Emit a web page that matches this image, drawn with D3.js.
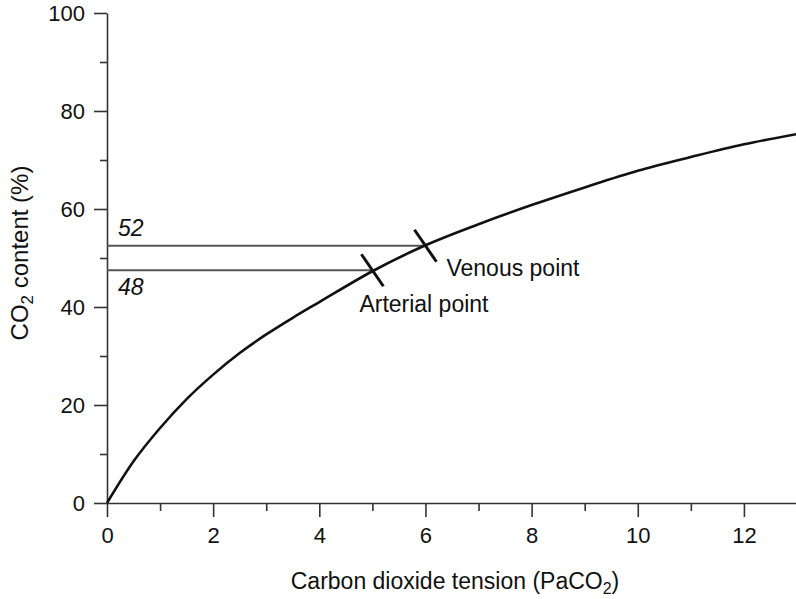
<!DOCTYPE html>
<html>
<head>
<meta charset="utf-8">
<script src="https://cdn.jsdelivr.net/npm/d3@7"></script>
<style>
  body { margin: 0; background: #fff; }
  text { font-family: "Liberation Sans", Arial, Helvetica, sans-serif; fill: #111; }
</style>
</head>
<body>
<div id="chart"></div>
<script>
// CO2 dissociation curve
const tension = [0, 0.5, 1, 1.5, 2, 2.5, 3, 3.5, 4, 5, 6, 7, 8, 9, 10, 11, 12, 13];
const content = [0, 8.5, 15.3, 21.2, 26.2, 30.6, 34.4, 37.8, 41.0, 47.3, 52.6, 56.9, 60.8, 64.4, 67.8, 70.6, 73.2, 75.3];

const xMajorTicks = [0, 2, 4, 6, 8, 10, 12];
const xMinorTicks = [1, 3, 5, 7, 9, 11];
const yMajorTicks = [0, 20, 40, 60, 80, 100];
const yMinorTicks = [10, 30, 50, 70, 90];

// marked points on the curve
const pointNames = ["Arterial point", "Venous point"];
const pointTension = [5, 6];
const pointContent = [47.5, 52.5];
const pointLabels = ["48", "52"];

const width = 796;
const height = 599;

const svg = d3.select("#chart")
  .append("svg")
  .attr("width", width)
  .attr("height", height);

const x = d3.scaleLinear().domain([0, 13]).range([107, 797]);
const y = d3.scaleLinear().domain([0, 100]).range([503, 13]);

const axisColor = "#333";

// x axis
svg.append("g")
  .attr("transform", `translate(0, ${y(0)})`)
  .call(d3.axisBottom(x).tickValues(xMajorTicks).tickSize(14).tickSizeOuter(0).tickPadding(10).tickFormat(d3.format("d")));
svg.append("g")
  .attr("transform", `translate(0, ${y(0)})`)
  .call(d3.axisBottom(x).tickValues(xMinorTicks).tickSize(8).tickFormat(""))
  .call((g) => g.select(".domain").remove());

// y axis
svg.append("g")
  .attr("transform", `translate(${x(0)}, 0)`)
  .call(d3.axisLeft(y).tickValues(yMajorTicks).tickSize(13).tickSizeOuter(0).tickPadding(9).tickFormat(d3.format("d")));
svg.append("g")
  .attr("transform", `translate(${x(0)}, 0)`)
  .call(d3.axisLeft(y).tickValues(yMinorTicks).tickSize(7).tickFormat(""))
  .call((g) => g.select(".domain").remove());

svg.selectAll(".domain, .tick line")
  .attr("stroke", axisColor)
  .attr("stroke-width", 1.6);
svg.selectAll(".tick text")
  .attr("font-size", 22)
  .attr("fill", "#111")
  .style("font-family", "'Liberation Sans', Arial, sans-serif");

// axis titles
const xTitle = svg.append("text")
  .attr("x", 455)
  .attr("y", 589)
  .attr("text-anchor", "middle")
  .attr("font-size", 23);
xTitle.append("tspan").text("Carbon dioxide tension (PaCO");
xTitle.append("tspan").attr("font-size", 16).attr("dy", 5).text("2");
xTitle.append("tspan").attr("dy", -5).text(")");

const yTitle = svg.append("text")
  .attr("transform", `translate(28, 253) rotate(-90)`)
  .attr("text-anchor", "middle")
  .attr("font-size", 24);
yTitle.append("tspan").text("CO");
yTitle.append("tspan").attr("font-size", 17).attr("dy", 5).text("2");
yTitle.append("tspan").attr("dy", -5).text(" content (%)");

// reference lines from the y axis to the marked points
svg.selectAll(".refline")
  .data(pointTension)
  .enter()
  .append("line")
  .attr("class", "refline")
  .attr("x1", x(0))
  .attr("x2", (d) => x(d))
  .attr("y1", (d, i) => y(pointContent[i]))
  .attr("y2", (d, i) => y(pointContent[i]))
  .attr("stroke", "#555")
  .attr("stroke-width", 1.8);

// value labels on the left
svg.selectAll(".vlabel")
  .data(pointLabels)
  .enter()
  .append("text")
  .attr("class", "vlabel")
  .attr("x", 118)
  .attr("y", (d, i) => y(pointContent[i]) + (i === 0 ? 25 : -10))
  .attr("font-size", 23)
  .attr("font-style", "italic")
  .text((d) => d);

// the curve
const line = d3.line()
  .x((d) => x(d[0]))
  .y((d) => y(d[1]))
  .curve(d3.curveMonotoneX);

svg.append("path")
  .datum(tension.map((t, i) => [t, content[i]]))
  .attr("d", line)
  .attr("fill", "none")
  .attr("stroke", "#111")
  .attr("stroke-width", 2.6);

// cross marks at the points
svg.selectAll(".mark")
  .data(pointTension)
  .enter()
  .append("line")
  .attr("class", "mark")
  .attr("x1", (d) => x(d) - 11)
  .attr("y1", (d, i) => y(pointContent[i]) - 16)
  .attr("x2", (d) => x(d) + 11)
  .attr("y2", (d, i) => y(pointContent[i]) + 16)
  .attr("stroke", "#111")
  .attr("stroke-width", 3);

// point names
svg.selectAll(".pname")
  .data(pointNames)
  .enter()
  .append("text")
  .attr("class", "pname")
  .attr("x", (d, i) => x(pointTension[i]) + (i === 0 ? -13 : 21))
  .attr("y", (d, i) => y(pointContent[i]) + (i === 0 ? 42 : 30))
  .attr("font-size", 23)
  .text((d) => d);
</script>
</body>
</html>
